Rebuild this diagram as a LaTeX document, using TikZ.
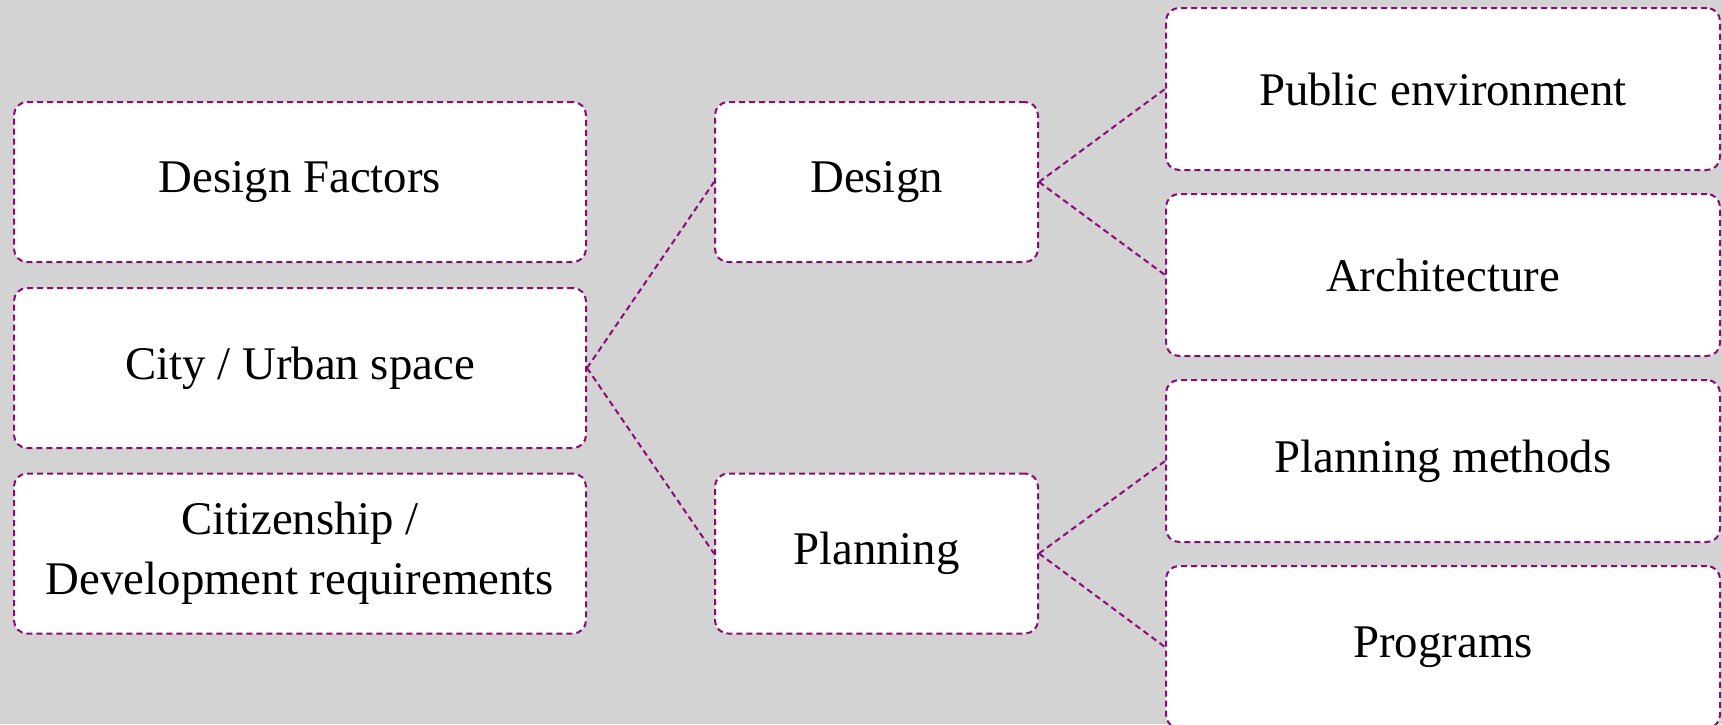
\documentclass[tikz,border=0pt]{standalone}
\usepackage{fontspec}
\setmainfont{Liberation Serif}
\definecolor{bggray}{RGB}{211,211,211}
\definecolor{dashpurple}{RGB}{140,10,120}
\begin{document}
\begin{tikzpicture}[x=0.5pt,y=-0.5pt,
  box/.style={draw=dashpurple, fill=white, line width=1pt, dash pattern=on 3pt off 2pt,
    rounded corners=6.5pt, minimum height=80pt, inner sep=0pt, align=center,
    font=\fontsize{23.4}{30}\selectfont},
  leftbox/.style={box, minimum width=286pt},
  midbox/.style={box, minimum width=161.5pt},
  rightbox/.style={box, minimum width=277pt, minimum height=81pt},
  link/.style={draw=dashpurple, line width=1pt, dash pattern=on 3pt off 2pt}]
\useasboundingbox (0,0) rectangle (1722,724);
\fill[bggray] (0,0) rectangle (1722,724);
% left column
\node[leftbox] (df) at (300,182) {Design Factors};
\node[leftbox] (city) at (300,368) {City / Urban space};
\node[leftbox] (cit) at (300,553.5) {Citizenship /\\Development requirements};
% middle column
\node[midbox] (design) at (876.5,182) {Design};
\node[midbox] (plan) at (876.5,553.5) {Planning};
% right column
\node[rightbox] (pub) at (1443,89) {Public environment};
\node[rightbox] (arch) at (1443,275) {Architecture};
\node[rightbox] (pm) at (1443,461) {Planning methods};
\node[rightbox] (prog) at (1443,647) {Programs};
% connectors
\draw[link] (city.east) -- (design.west);
\draw[link] (city.east) -- (plan.west);
\draw[link] (design.east) -- (pub.west);
\draw[link] (design.east) -- (arch.west);
\draw[link] (plan.east) -- (pm.west);
\draw[link] (plan.east) -- (prog.west);
\end{tikzpicture}
\end{document}
